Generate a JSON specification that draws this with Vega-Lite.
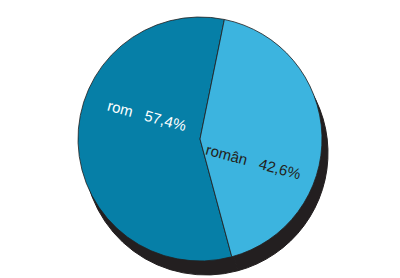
{
  "$schema": "https://vega.github.io/schema/vega-lite/v6.json",
  "width": 400,
  "height": 278,
  "autosize": {"type": "fit", "contains": "padding"},
  "padding": 0,
  "background": "white",
  "config": {"view": {"stroke": null}},
  "data": {
    "values": [
      {"grup": "rom", "procent": 57.4, "eticheta": "rom\u00a0\u00a0\u00a057,4%"},
      {"grup": "român", "procent": 42.6, "eticheta": "român\u00a0\u00a0\u00a042,6%"}
    ]
  },
  "encoding": {
    "theta": {"field": "procent", "type": "quantitative", "stack": true, "scale": {"range": [2.878, 9.161]}},
    "order": {"field": "procent", "type": "quantitative", "sort": "descending"}
  },
  "layer": [
    {
      "mark": {"type": "arc", "radius": 122, "xOffset": 6, "yOffset": 14, "fill": "#231f20", "stroke": "#231f20", "strokeWidth": 1}
    },
    {
      "mark": {"type": "arc", "radius": 122, "stroke": "#231f20", "strokeWidth": 0.8},
      "encoding": {
        "color": {"field": "grup", "type": "nominal", "legend": null,
          "scale": {"domain": ["rom", "român"], "range": ["#067fa7", "#3cb4df"]}}
      }
    },
    {
      "mark": {"type": "text", "radius": 58, "thetaOffset": 0.44, "angle": 15, "fontSize": 15, "font": "Liberation Sans"},
      "encoding": {
        "text": {"field": "eticheta", "type": "nominal"},
        "color": {"field": "grup", "type": "nominal", "legend": null,
          "scale": {"domain": ["rom", "român"], "range": ["#ffffff", "#231f20"]}}
      }
    }
  ],
  "resolve": {"scale": {"color": "independent"}}
}
